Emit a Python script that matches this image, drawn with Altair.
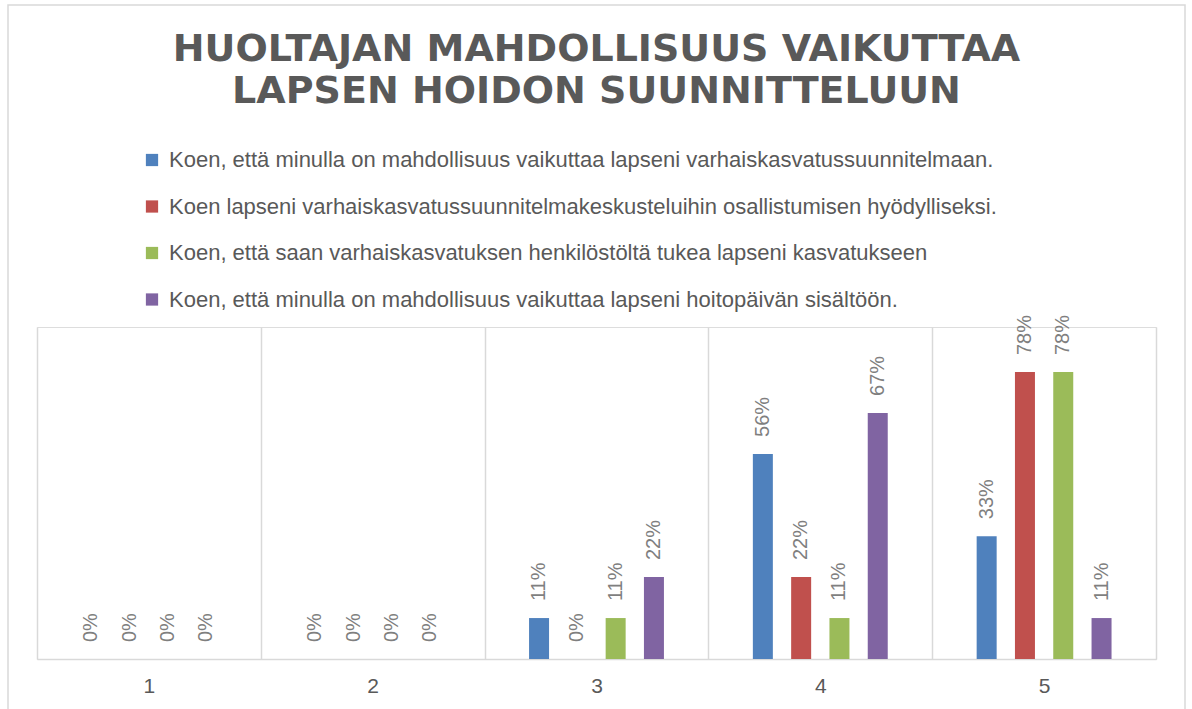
import altair as alt
import pandas as pd

categories = ["1", "2", "3", "4", "5"]
series_names = [
    "Koen, että minulla on mahdollisuus vaikuttaa lapseni varhaiskasvatussuunnitelmaan.",
    "Koen lapseni varhaiskasvatussuunnitelmakeskusteluihin osallistumisen hyödylliseksi.",
    "Koen, että saan varhaiskasvatuksen henkilöstöltä tukea lapseni kasvatukseen",
    "Koen, että minulla on mahdollisuus vaikuttaa lapseni hoitopäivän sisältöön.",
]
values_s1 = [0.0, 0.0, 0.111, 0.556, 0.333]
values_s2 = [0.0, 0.0, 0.0, 0.222, 0.778]
values_s3 = [0.0, 0.0, 0.111, 0.111, 0.778]
values_s4 = [0.0, 0.0, 0.222, 0.667, 0.111]
colors = ["#4F81BD", "#C0504D", "#9BBB59", "#8064A2"]

rows = []
for name, vals in zip(series_names, [values_s1, values_s2, values_s3, values_s4]):
    for c, v in zip(categories, vals):
        rows.append({"cat": c, "series": name, "value": v})
df = pd.DataFrame(rows)

FONT = "Liberation Sans, Arial, sans-serif"
TITLE_FONT = "DejaVu Sans, Liberation Sans, sans-serif"

x_enc = alt.X("cat:N", sort=categories, title=None,
              scale=alt.Scale(paddingInner=0, paddingOuter=0),
              axis=alt.Axis(labelAngle=0, labelFontSize=21, labelColor="#595959",
                            labelFont=FONT, labelPadding=16, ticks=False,
                            domainColor="#d9d9d9", domainWidth=1.5,
                            grid=True, gridColor="#d9d9d9", gridWidth=1.5,
                            tickBand="extent"))
xoff = alt.XOffset("series:N", sort=series_names,
                   scale=alt.Scale(paddingInner=0.156, paddingOuter=1))
y_enc = alt.Y("value:Q", scale=alt.Scale(domain=[0, 0.9], nice=False), axis=None)

bars = alt.Chart(df).mark_bar(width=20).encode(
    x=x_enc, xOffset=xoff, y=y_enc,
    color=alt.Color("series:N", sort=series_names,
                    scale=alt.Scale(domain=series_names, range=colors),
                    legend=alt.Legend(title=None, orient="none", legendX=104, legendY=-178,
                                      direction="vertical", symbolType="square",
                                      symbolSize=150, symbolStrokeWidth=0,
                                      labelFontSize=22, labelColor="#595959", labelFont=FONT,
                                      labelLimit=1200, labelOffset=6, rowPadding=24.5,
                                      padding=0)),
)

labels = alt.Chart(df).mark_text(angle=270, align="left", baseline="middle", dx=17,
                                 fontSize=20, color="#7f7f7f", font=FONT).encode(
    x=alt.X("cat:N", sort=categories), xOffset=xoff, y=y_enc,
    text=alt.Text("value:Q", format=".0%"),
)

border = alt.Chart(alt.Data(values=[{}])).mark_rect(
    fill="transparent", stroke="#d9d9d9", strokeWidth=1.5).encode(
    x=alt.value(-29), x2=alt.value(1148), y=alt.value(-322), y2=alt.value(420))

chart = alt.layer(border, bars, labels).properties(
    width=1119, height=332,
    padding={"left": 37, "top": 327, "right": 36, "bottom": 50},
    autosize=alt.AutoSizeParams(type="none"),
    title=alt.TitleParams(
        text=["HUOLTAJAN MAHDOLLISUUS VAIKUTTAA", "LAPSEN HOIDON SUUNNITTELUUN"],
        fontSize=38, font=TITLE_FONT, fontWeight="bold", color="#595959",
        anchor="middle", lineHeight=42, offset=-107,
    ),
).configure_view(stroke=None).configure(background="white")

chart.save("out.html", embed_options={"renderer": "svg", "actions": False})
